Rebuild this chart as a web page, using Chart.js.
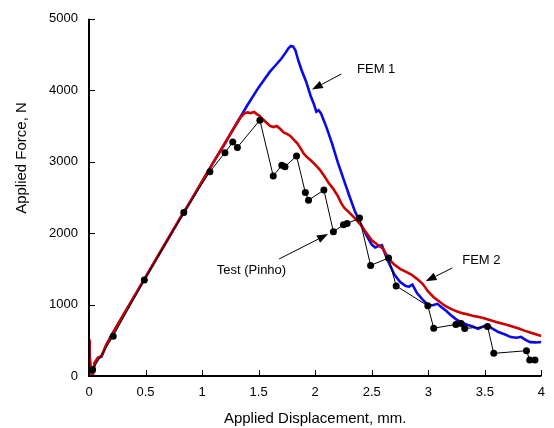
<!DOCTYPE html>
<html>
<head>
<meta charset="utf-8">
<script src="https://cdn.jsdelivr.net/npm/chart.js@4.4.0/dist/chart.umd.min.js"></script>
<style>
	html, body { margin: 0; padding: 0; background: #fff; }
	canvas { display: block; }
</style>
</head>
<body>
<canvas id="graph-canvas" width="554" height="428"></canvas>
<script>
(function () {
	'use strict';

	// --- Data ---

	const xTicks = [0, 0.5, 1, 1.5, 2, 2.5, 3, 3.5, 4];
	const yTicks = [0, 1000, 2000, 3000, 4000, 5000];

	const fem1X = [0, 0.005, 0.01, 0.02, 0.03, 0.05, 0.08, 0.11, 0.15, 0.2, 0.3, 0.4, 0.5, 0.6, 0.7, 0.8, 0.9, 1.0, 1.1, 1.2, 1.3, 1.4, 1.5, 1.55, 1.6, 1.65, 1.7, 1.74, 1.765, 1.785, 1.805, 1.825, 1.85, 1.88, 1.92, 1.96, 1.99, 2.01, 2.03, 2.05, 2.07, 2.1, 2.15, 2.2, 2.25, 2.3, 2.35, 2.4, 2.45, 2.5, 2.53, 2.56, 2.59, 2.62, 2.65, 2.7, 2.75, 2.8, 2.83, 2.86, 2.9, 2.95, 3.0, 3.04, 3.08, 3.12, 3.16, 3.2, 3.25, 3.3, 3.35, 3.4, 3.44, 3.48, 3.52, 3.56, 3.62, 3.68, 3.73, 3.78, 3.82, 3.86, 3.9, 3.95, 4.0];
	const fem1Y = [480, 300, 150, 40, 10, 180, 250, 270, 420, 570, 840, 1110, 1380, 1650, 1920, 2190, 2450, 2720, 2990, 3250, 3520, 3790, 4040, 4150, 4260, 4350, 4440, 4530, 4590, 4620, 4610, 4560, 4420, 4280, 4120, 3920, 3800, 3700, 3720, 3680, 3600, 3480, 3250, 2990, 2760, 2530, 2310, 2140, 1980, 1840, 1800, 1820, 1830, 1700, 1590, 1420, 1320, 1260, 1250, 1280, 1160, 1070, 990, 990, 1010, 960, 910, 850, 790, 745, 715, 690, 660, 690, 715, 670, 615, 580, 545, 535, 548, 505, 474, 470, 475];

	const fem2X = [0, 0.003, 0.008, 0.015, 0.025, 0.035, 0.05, 0.08, 0.11, 0.15, 0.2, 0.3, 0.4, 0.5, 0.6, 0.7, 0.8, 0.9, 1.0, 1.1, 1.2, 1.25, 1.3, 1.34, 1.37, 1.4, 1.43, 1.46, 1.48, 1.51, 1.54, 1.57, 1.6, 1.63, 1.66, 1.69, 1.72, 1.75, 1.78, 1.81, 1.84, 1.87, 1.9, 1.93, 1.96, 2.0, 2.04, 2.08, 2.12, 2.16, 2.2, 2.23, 2.26, 2.3, 2.35, 2.4, 2.45, 2.5, 2.55, 2.6, 2.65, 2.7, 2.75, 2.8, 2.85, 2.9, 2.95, 3.0, 3.05, 3.1, 3.15, 3.2, 3.25, 3.3, 3.35, 3.4, 3.45, 3.5, 3.55, 3.6, 3.65, 3.7, 3.75, 3.8, 3.85, 3.9, 3.95, 4.0];
	const fem2Y = [510, 320, 280, 120, 30, 20, 190, 260, 280, 430, 575, 845, 1115, 1385, 1655, 1925, 2195, 2455, 2725, 2995, 3255, 3390, 3520, 3620, 3670, 3690, 3680, 3695, 3670, 3640, 3590, 3545, 3500, 3485, 3500, 3460, 3410, 3390, 3360, 3310, 3260, 3190, 3110, 3060, 3020, 2960, 2890, 2800, 2700, 2620, 2520, 2420, 2350, 2290, 2210, 2120, 2010, 1900, 1840, 1780, 1640, 1560, 1500, 1460, 1420, 1360, 1290, 1180, 1100, 1040, 980, 940, 905, 880, 860, 840, 825, 805, 780, 755, 735, 715, 690, 665, 635, 610, 585, 560];

	const testX = [0.032, 0.214, 0.489, 0.838, 1.069, 1.202, 1.271, 1.312, 1.511, 1.629, 1.705, 1.733, 1.835, 1.913, 1.941, 2.077, 2.161, 2.25, 2.282, 2.392, 2.49, 2.649, 2.716, 2.996, 3.048, 3.244, 3.29, 3.322, 3.524, 3.579, 3.868, 3.897, 3.943];
	const testY = [89, 558, 1345, 2288, 2860, 3125, 3274, 3200, 3581, 2800, 2949, 2930, 3079, 2567, 2461, 2604, 2019, 2116, 2134, 2210, 1548, 1652, 1261, 982, 670, 721, 735, 665, 693, 317, 354, 223, 223];

	// Callouts: label start (data units) and arrow from/to (data units)
	const callouts = [
		{ text: 'FEM 1', at: [2.37, 4297], from: [2.231, 4227], to: [1.971, 4009] },
		{ text: 'FEM 2', at: [3.3, 1614], from: [3.212, 1512], to: [2.976, 1325] },
		{ text: 'Test (Pinho)', at: [1.13, 1484], from: [1.681, 1638], to: [2.114, 1986] },
	];

	const FONT = "'Liberation Sans', Arial, Helvetica, sans-serif";

	function toPoints(xs, ys) {
		return xs.map((x, i) => ({ x: x, y: ys[i] }));
	}

	// --- Plugin: inward ticks, axis lines, titles, callouts ---

	const decorPlugin = {
		id: 'decor',
		afterDraw(chart) {
			const ctx = chart.ctx;
			const a = chart.chartArea;
			const xs = chart.scales.x;
			const ys = chart.scales.y;

			ctx.save();
			ctx.strokeStyle = '#000';
			ctx.lineWidth = 1;
			ctx.beginPath();
			xTicks.forEach(v => {
				if (v === 0) return;
				const px = Math.round(xs.getPixelForValue(v)) + 0.5;
				ctx.moveTo(px, a.bottom);
				ctx.lineTo(px, a.bottom - 6);
			});
			yTicks.forEach(v => {
				if (v === 0) return;
				const py = Math.round(ys.getPixelForValue(v)) + 0.5;
				ctx.moveTo(a.left, py);
				ctx.lineTo(a.left + 6, py);
			});
			ctx.stroke();

			ctx.lineWidth = 2;
			ctx.beginPath();
			ctx.moveTo(a.left, ys.getPixelForValue(5000));
			ctx.lineTo(a.left, a.bottom);
			ctx.lineTo(xs.getPixelForValue(4), a.bottom);
			ctx.stroke();

			// axis titles
			ctx.fillStyle = '#000';
			ctx.font = '15px ' + FONT;
			ctx.textAlign = 'center';
			ctx.textBaseline = 'middle';
			ctx.fillText('Applied Displacement, mm.', (a.left + a.right) / 2, 419);
			ctx.save();
			ctx.translate(22, 158);
			ctx.rotate(-Math.PI / 2);
			ctx.fillText('Applied Force, N', 0, 0);
			ctx.restore();

			// callouts
			ctx.font = '13px ' + FONT;
			ctx.textAlign = 'left';
			callouts.forEach(c => {
				ctx.fillText(c.text, xs.getPixelForValue(c.at[0]), ys.getPixelForValue(c.at[1]));
				const x1 = xs.getPixelForValue(c.from[0]);
				const y1 = ys.getPixelForValue(c.from[1]);
				const x2 = xs.getPixelForValue(c.to[0]);
				const y2 = ys.getPixelForValue(c.to[1]);
				const ang = Math.atan2(y2 - y1, x2 - x1);
				const len = 11, half = 4;
				const bx = x2 - len * Math.cos(ang);
				const by = y2 - len * Math.sin(ang);
				ctx.lineWidth = 1;
				ctx.beginPath();
				ctx.moveTo(x1, y1);
				ctx.lineTo(bx, by);
				ctx.stroke();
				ctx.beginPath();
				ctx.moveTo(x2, y2);
				ctx.lineTo(bx + half * Math.sin(ang), by - half * Math.cos(ang));
				ctx.lineTo(bx - half * Math.sin(ang), by + half * Math.cos(ang));
				ctx.closePath();
				ctx.fill();
			});
			ctx.restore();
		},
	};

	// --- Chart ---

	function createChart() {
		const canvas = document.getElementById('graph-canvas');
		new Chart(canvas, {
			type: 'scatter',
			data: {
				datasets: [
					{
						label: 'Test (Pinho)',
						data: toPoints(testX, testY),
						showLine: true,
						borderColor: '#000',
						backgroundColor: '#000',
						borderWidth: 1,
						pointRadius: 3.5,
						pointBorderWidth: 0,
						order: 0,
					},
					{
						label: 'FEM 2',
						data: toPoints(fem2X, fem2Y),
						showLine: true,
						borderColor: '#cc0000',
						borderWidth: 2.6,
						pointRadius: 0,
						order: 1,
					},
					{
						label: 'FEM 1',
						data: toPoints(fem1X, fem1Y),
						showLine: true,
						borderColor: '#0a0ae6',
						borderWidth: 2.6,
						pointRadius: 0,
						order: 2,
					},
				],
			},
			options: {
				responsive: false,
				animation: false,
				devicePixelRatio: 1,
				layout: { padding: { top: 17, right: 3, left: 0, bottom: 0 } },
				plugins: {
					legend: { display: false },
					tooltip: { enabled: false },
				},
				elements: { line: { tension: 0 } },
				scales: {
					x: {
						type: 'linear',
						min: 0,
						max: 4,
						afterFit: s => { s.height = 52; },
						afterBuildTicks: s => { s.ticks = xTicks.map(v => ({ value: v })); },
						grid: { display: false, drawTicks: false },
						border: { display: false },
						ticks: {
							color: '#000',
							padding: 9,
							maxRotation: 0,
							font: { family: FONT, size: 13 },
							callback: v => String(v),
						},
					},
					y: {
						type: 'linear',
						min: 0,
						max: 5000,
						afterFit: s => { s.width = 89; },
						afterBuildTicks: s => { s.ticks = yTicks.map(v => ({ value: v })); },
						grid: { display: false, drawTicks: false },
						border: { display: false },
						ticks: {
							color: '#000',
							padding: 11,
							font: { family: FONT, size: 13 },
							callback: v => String(v),
						},
					},
				},
			},
			plugins: [decorPlugin],
		});
	}

	createChart();
})();
</script>
</body>
</html>
